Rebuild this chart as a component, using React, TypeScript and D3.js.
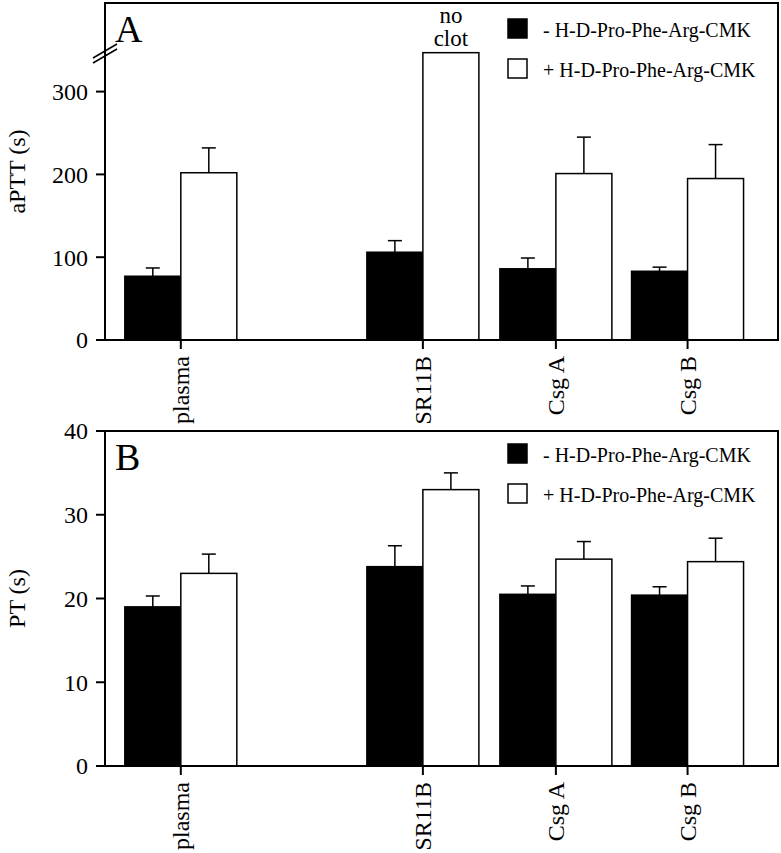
import * as d3 from "d3";

// groups on the x axis and where they sit (plasma is set apart from the rest)
const categories = ["plasma", "SR11B", "Csg A", "Csg B"];
const slots = [0, 1.82, 2.82, 3.81];

const seriesNames = ["- H-D-Pro-Phe-Arg-CMK", "+ H-D-Pro-Phe-Arg-CMK"];

// panel A: aPTT (s)
const apttMinus = [77, 106, 86, 83];
const apttMinusErr = [10, 14, 13, 5];
const apttPlus = [202, 347, 201, 195];
const apttPlusErr = [30, 0, 44, 41];
const apttTicks = [0, 100, 200, 300];

// panel B: PT (s)
const ptMinus = [19.0, 23.8, 20.5, 20.4];
const ptMinusErr = [1.3, 2.5, 1.0, 1.0];
const ptPlus = [23.0, 33.0, 24.7, 24.4];
const ptPlusErr = [2.3, 2.0, 2.1, 2.8];
const ptTicks = [0, 10, 20, 30, 40];

const font = "Liberation Serif";
const W = 781;
const H = 853;
const left = 105;
const right = 778;
const barW = 56;

type PanelProps = {
  top: number;
  bottom: number;
  maxY: number;
  ticks: number[];
  minus: number[];
  minusErr: number[];
  plus: number[];
  plusErr: number[];
  letter: string;
  title: string;
  legendY: number;
  broken?: boolean;
};

const x = d3.scaleLinear().domain([-0.57, 4.49]).range([left, right]);

function Panel(p: PanelProps) {
  const y = d3.scaleLinear().domain([0, p.maxY]).range([p.bottom, p.top]);
  const bars = categories.flatMap((c, i) => [
    { c, i, v: p.minus[i], e: p.minusErr[i], fill: "#000", dx: -barW },
    { c, i, v: p.plus[i], e: p.plusErr[i], fill: "#fff", dx: 0 },
  ]);
  return (
    <g>
      {/* bars with upper error whiskers */}
      {bars.map((b, k) => {
        const bx = x(slots[b.i]) + b.dx;
        const cx = bx + barW / 2;
        return (
          <g key={k}>
            {b.e > 0 && (
              <g stroke="#000" strokeWidth={1.5}>
                <line x1={cx} x2={cx} y1={y(b.v)} y2={y(b.v + b.e)} />
                <line x1={cx - 7} x2={cx + 7} y1={y(b.v + b.e)} y2={y(b.v + b.e)} />
              </g>
            )}
            <rect
              x={bx}
              y={y(b.v)}
              width={barW}
              height={y(0) - y(b.v)}
              fill={b.fill}
              stroke="#000"
              strokeWidth={1.5}
            />
          </g>
        );
      })}
      {/* frame */}
      <rect
        x={left}
        y={p.top}
        width={right - left}
        height={p.bottom - p.top}
        fill="none"
        stroke="#000"
        strokeWidth={2}
      />
      {/* y ticks */}
      {p.ticks.map((t) => (
        <g key={t}>
          <line x1={left - 9} x2={left} y1={y(t)} y2={y(t)} stroke="#000" strokeWidth={2} />
          <text
            x={left - 17}
            y={y(t)}
            dy="0.35em"
            textAnchor="end"
            fontSize={24}
            fontFamily={font}
          >
            {t}
          </text>
        </g>
      ))}
      {p.broken && (
        <g stroke="#000" strokeWidth={1.5}>
          <line x1={93} y1={63} x2={117} y2={49} />
          <line x1={93} y1={58} x2={117} y2={44} />
        </g>
      )}
      {/* x ticks and labels */}
      {categories.map((c, i) => (
        <g key={c}>
          <line
            x1={x(slots[i])}
            x2={x(slots[i])}
            y1={p.bottom}
            y2={p.bottom + 9}
            stroke="#000"
            strokeWidth={2}
          />
          <text
            transform={`translate(${x(slots[i])},${p.bottom + 16}) rotate(-90)`}
            dy="0.35em"
            textAnchor="end"
            fontSize={24}
            fontFamily={font}
          >
            {c}
          </text>
        </g>
      ))}
      {/* y title */}
      <text
        transform={`translate(25,${(p.top + p.bottom) / 2}) rotate(-90)`}
        textAnchor="middle"
        fontSize={24}
        fontFamily={font}
      >
        {p.title}
      </text>
      {/* panel letter */}
      <text x={115} y={p.top + 39} fontSize={38} fontFamily={font}>
        {p.letter}
      </text>
      {/* legend */}
      {seriesNames.map((s, k) => (
        <g key={s}>
          <rect
            x={508}
            y={p.legendY + k * 40}
            width={19}
            height={19}
            fill={k === 0 ? "#000" : "#fff"}
            stroke="#000"
            strokeWidth={1.5}
          />
          <text x={543} y={p.legendY + k * 40 + 18} fontSize={20} fontFamily={font}>
            {s}
          </text>
        </g>
      ))}
    </g>
  );
}

export default function App() {
  const yA = d3.scaleLinear().domain([0, 407]).range([340, 3]);
  return (
    <svg
      width={W}
      height={H}
      style={{ position: "absolute", left: 0, top: 0, background: "#fff" }}
    >
      <Panel
        top={3}
        bottom={340}
        maxY={407}
        ticks={apttTicks}
        minus={apttMinus}
        minusErr={apttMinusErr}
        plus={apttPlus}
        plusErr={apttPlusErr}
        letter="A"
        title="aPTT (s)"
        legendY={19}
        broken
      />
      <text
        x={x(slots[1]) + barW / 2}
        y={yA(apttPlus[1]) - 30}
        textAnchor="middle"
        fontSize={23}
        fontFamily={font}
      >
        no
      </text>
      <text
        x={x(slots[1]) + barW / 2}
        y={yA(apttPlus[1]) - 7}
        textAnchor="middle"
        fontSize={23}
        fontFamily={font}
      >
        clot
      </text>
      <Panel
        top={431}
        bottom={766}
        maxY={40}
        ticks={ptTicks}
        minus={ptMinus}
        minusErr={ptMinusErr}
        plus={ptPlus}
        plusErr={ptPlusErr}
        letter="B"
        title="PT (s)"
        legendY={444}
      />
    </svg>
  );
}
